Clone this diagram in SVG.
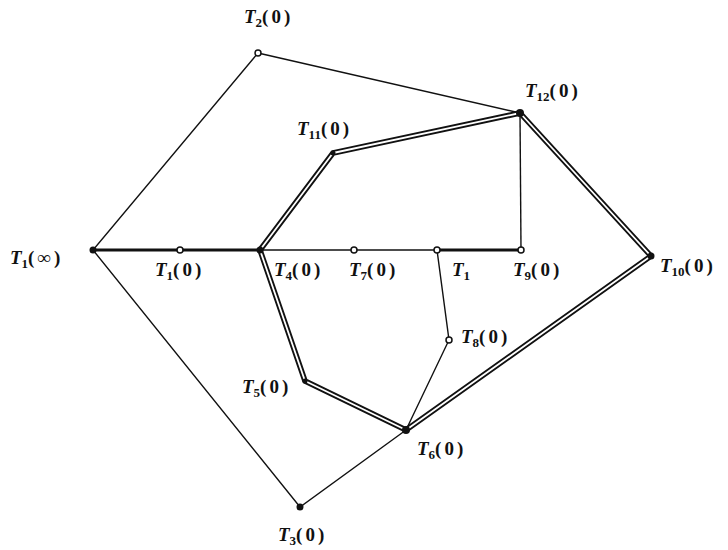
<svg xmlns="http://www.w3.org/2000/svg" width="728" height="550" viewBox="0 0 728 550">
<style>
.thin{stroke:#111;stroke-width:1.4;fill:none}
.thick{stroke:#111;stroke-width:2.8;fill:none}
.dbl{stroke:#111;stroke-width:5.5;fill:none;stroke-linejoin:round}
.dblin{stroke:#fff;stroke-width:1.8;fill:none;stroke-linejoin:round}
.dot{fill:#fff;stroke:#111;stroke-width:1.5}
.fdot{fill:#111}
text{font-family:"Liberation Serif","DejaVu Serif",serif;font-weight:bold;font-style:italic;font-size:19px;fill:#111}
.sub{font-size:13px;font-style:normal}
.p{font-style:normal;letter-spacing:3px}
</style>
<rect width="728" height="550" fill="#fff"/>
<g id="connectors">
<polyline class="thin" points="258,53 93,250 300,507 406,430"/>
<line class="thin" x1="258" y1="53" x2="520" y2="113"/>
<line class="thick" x1="93" y1="250" x2="260" y2="250"/>
<line class="thin" x1="260" y1="250" x2="437" y2="250"/>
<line class="thick" x1="437" y1="250" x2="521" y2="250"/>
<line class="thin" x1="521" y1="250" x2="520" y2="113"/>
<polyline class="thin" points="437,250 449,340 406,430"/>
<polygon class="dbl" points="260,250 333,153 520,113 651,256 406,430 305,381"/>
<polygon class="dblin" points="260,250 333,153 520,113 651,256 406,430 305,381"/>
</g>
<g id="T1inf"><circle class="fdot" cx="93" cy="250" r="3.5"/><text x="10" y="264">T<tspan class="sub" dy="4">1</tspan><tspan class="p" dy="-4">(∞)</tspan></text></g>
<g id="T1_0"><circle class="dot" cx="180" cy="250" r="3"/><text x="155" y="276">T<tspan class="sub" dy="4">1</tspan><tspan class="p" dy="-4">(0)</tspan></text></g>
<g id="T4"><circle class="fdot" cx="260" cy="250" r="3.5"/><text x="274" y="276">T<tspan class="sub" dy="4">4</tspan><tspan class="p" dy="-4">(0)</tspan></text></g>
<g id="T7"><circle class="dot" cx="354" cy="250" r="3"/><text x="349" y="276">T<tspan class="sub" dy="4">7</tspan><tspan class="p" dy="-4">(0)</tspan></text></g>
<g id="T1"><circle class="dot" cx="437" cy="250" r="3"/><text x="452" y="276">T<tspan class="sub" dy="4">1</tspan></text></g>
<g id="T9"><circle class="dot" cx="521" cy="250" r="3"/><text x="513" y="276">T<tspan class="sub" dy="4">9</tspan><tspan class="p" dy="-4">(0)</tspan></text></g>
<g id="T10"><circle class="fdot" cx="651" cy="256" r="3.5"/><text x="660" y="272">T<tspan class="sub" dy="4">10</tspan><tspan class="p" dy="-4">(0)</tspan></text></g>
<g id="T12"><circle class="fdot" cx="520" cy="113" r="4"/><text x="525" y="97">T<tspan class="sub" dy="4">12</tspan><tspan class="p" dy="-4">(0)</tspan></text></g>
<g id="T11"><circle class="fdot" cx="333" cy="153" r="2.5"/><text x="297" y="135">T<tspan class="sub" dy="4">11</tspan><tspan class="p" dy="-4">(0)</tspan></text></g>
<g id="T2"><circle class="dot" cx="258" cy="53" r="3"/><text x="244" y="23">T<tspan class="sub" dy="4">2</tspan><tspan class="p" dy="-4">(0)</tspan></text></g>
<g id="T5"><circle class="fdot" cx="305" cy="381" r="2.5"/><text x="242" y="393">T<tspan class="sub" dy="4">5</tspan><tspan class="p" dy="-4">(0)</tspan></text></g>
<g id="T6"><circle class="fdot" cx="406" cy="430" r="4"/><text x="417" y="455">T<tspan class="sub" dy="4">6</tspan><tspan class="p" dy="-4">(0)</tspan></text></g>
<g id="T8"><circle class="dot" cx="449" cy="340" r="3"/><text x="461" y="343">T<tspan class="sub" dy="4">8</tspan><tspan class="p" dy="-4">(0)</tspan></text></g>
<g id="T3"><circle class="fdot" cx="300" cy="507" r="3.5"/><text x="278" y="541">T<tspan class="sub" dy="4">3</tspan><tspan class="p" dy="-4">(0)</tspan></text></g>
</svg>
